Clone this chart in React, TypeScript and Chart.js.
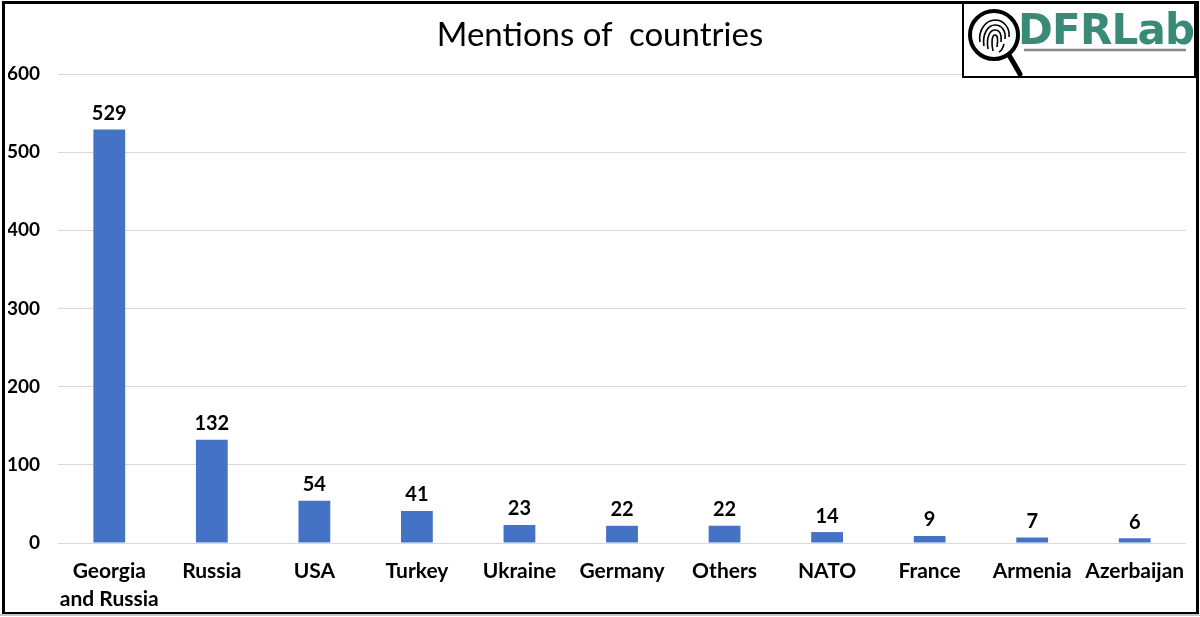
import React, { useEffect, useRef } from "react";
import { Chart, registerables } from "chart.js";

Chart.register(...registerables);

const categories: (string | string[])[] = [
  ["Georgia", "and Russia"],
  "Russia",
  "USA",
  "Turkey",
  "Ukraine",
  "Germany",
  "Others",
  "NATO",
  "France",
  "Armenia",
  "Azerbaijan",
];
const mentions = [529, 132, 54, 41, 23, 22, 22, 14, 9, 7, 6];
const yTicks = [0, 100, 200, 300, 400, 500, 600];

const FONT = "Lato, 'Open Sans', sans-serif";

const valueLabels = {
  id: "valueLabels",
  afterDatasetsDraw(chart: any) {
    const { ctx } = chart;
    const meta = chart.getDatasetMeta(0);
    const data = chart.data.datasets[0].data as number[];
    ctx.save();
    ctx.font = `bold 20px ${FONT}`;
    ctx.fillStyle = "#000";
    ctx.textAlign = "center";
    ctx.textBaseline = "bottom";
    meta.data.forEach((bar: any, i: number) => {
      ctx.fillText(String(data[i]), bar.x, bar.y - 6);
    });
    ctx.restore();
  },
};

export default function App() {
  const canvasRef = useRef<HTMLCanvasElement | null>(null);

  useEffect(() => {
    document.body.style.margin = "0";
    const canvas = canvasRef.current;
    if (!canvas) return;
    const chart = new Chart(canvas, {
      type: "bar",
      data: {
        labels: categories,
        datasets: [
          {
            data: mentions,
            backgroundColor: "#4472C4",
            borderWidth: 0,
            barPercentage: 0.31,
            categoryPercentage: 1,
          },
        ],
      },
      options: {
        animation: false,
        responsive: false,
        devicePixelRatio: 1,
        layout: { padding: { left: 8, right: 14, top: 74, bottom: 0 } },
        plugins: {
          legend: { display: false },
          title: { display: false },
          tooltip: { enabled: false },
        },
        scales: {
          x: {
            grid: { display: false, drawTicks: false },
            border: { display: false },
            ticks: {
              color: "#000",
              font: { family: FONT, size: 21, weight: "bold", lineHeight: 1.3 },
              padding: 15,
              maxRotation: 0,
              autoSkip: false,
            },
            afterFit(scale: any) {
              scale.height = 74;
            },
          },
          y: {
            min: 0,
            max: 600,
            afterBuildTicks(scale: any) {
              scale.ticks = yTicks.map((v) => ({ value: v }));
            },
            grid: { color: "#d9d9d9", lineWidth: 1, drawTicks: false },
            border: { display: false },
            ticks: {
              color: "#000",
              font: { family: FONT, size: 19, weight: "bold" },
              padding: 18,
            },
            afterFit(scale: any) {
              scale.width = 50;
            },
          },
        },
      },
      plugins: [valueLabels],
    });
    return () => chart.destroy();
  }, []);

  return (
    <div
      style={{
        position: "absolute",
        left: 0,
        top: 0,
        width: 1200,
        height: 617,
        background: "#fff",
        overflow: "hidden",
      }}
    >
      <canvas
        ref={canvasRef}
        width={1200}
        height={617}
        style={{ position: "absolute", left: 0, top: 0, width: 1200, height: 617 }}
      />
      <div
        style={{
          position: "absolute",
          left: 2,
          top: 1,
          width: 1191,
          height: 608,
          border: "3px solid #000",
          boxSizing: "content-box",
          pointerEvents: "none",
        }}
      />
      <div
        style={{
          position: "absolute",
          left: 0,
          top: 614,
          width: 1200,
          height: 2,
          background: "#c8c8c8",
        }}
      />
      <div
        style={{
          position: "absolute",
          left: 0,
          width: 1200,
          top: 13,
          textAlign: "center",
          fontFamily: FONT,
          fontSize: 33,
          color: "#000",
          whiteSpace: "pre",
        }}
      >
        {"Mentions of  countries"}
      </div>
      <div
        style={{
          position: "absolute",
          left: 962,
          top: 2,
          width: 230,
          height: 72,
          border: "2px solid #000",
          background: "#fff",
        }}
      >
        <svg width={230} height={72} style={{ position: "absolute", left: 0, top: 0 }}>
          <circle cx={30} cy={31} r={24} fill="none" stroke="#000" strokeWidth={4} />
          <g fill="none" stroke="#000" strokeWidth={1.6}>
            <path d="M16 38 C14 26 22 16 31 16 C40 16 46 24 45 33" />
            <path d="M20 42 C18 30 24 21 31 21 C38 21 42 27 41 35" />
            <path d="M24 45 C22 33 26 26 31 26 C36 26 38 31 37 38" />
            <path d="M29 47 C27 38 28 31 31 31 C34 31 34 36 33 43" />
            <path d="M40 40 C39 44 37 47 35 48" />
          </g>
          <line x1={45} y1={51} x2={56} y2={70} stroke="#000" strokeWidth={5} strokeLinecap="round" />
          <line x1={60} y1={46} x2={222} y2={46} stroke="#888" strokeWidth={2.5} />
        </svg>
        <div
          style={{
            position: "absolute",
            left: 54,
            top: 1,
            fontFamily: "'DejaVu Sans', sans-serif",
            fontWeight: "bold",
            fontSize: 42,
            color: "#3a8a78",
            letterSpacing: -0.8,
          }}
        >
          DFRLab
        </div>
      </div>
    </div>
  );
}
